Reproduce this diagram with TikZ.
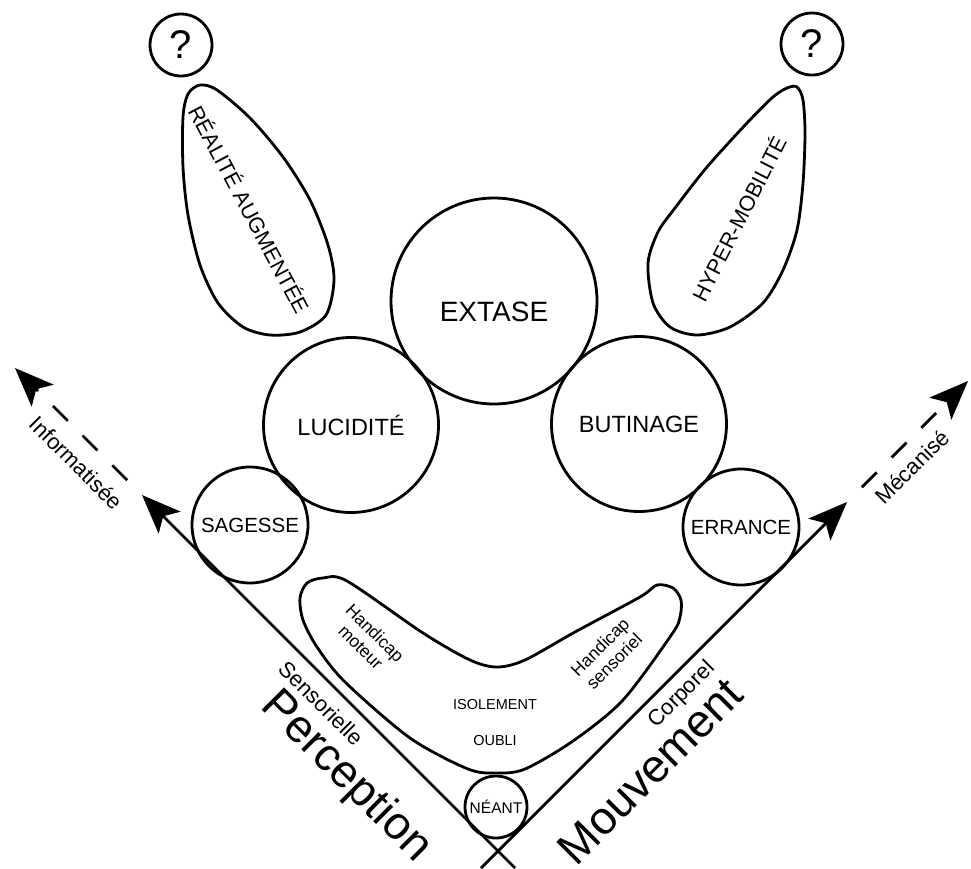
\documentclass[tikz,border=0pt]{standalone}
\usepackage{fontspec}
\setmainfont{Liberation Sans}
\usetikzlibrary{arrows.meta}
\usetikzlibrary{positioning}
\tikzstyle{bubble}=[draw,circle,line width=2.8pt,inner sep=0pt]
\tikzstyle{blob}=[line width=2.8pt,line join=round]

\begin{document}
\begin{tikzpicture}[
  x=1pt,y=-1pt,
  line width=2.8pt,
  huge bubble/.style={bubble,minimum size=206pt,font=\fontsize{28}{30}\selectfont,text height=40pt,text depth=0pt},
  large bubble/.style={bubble,minimum size=175pt,font=\fontsize{23.5}{26}\selectfont},
  small bubble/.style={bubble,minimum size=116pt,font=\fontsize{20.5}{23}\selectfont},
  tiny bubble/.style={bubble,minimum size=62pt,font=\fontsize{15.5}{18}\selectfont},
  question/.style={bubble,minimum size=62pt,font=\fontsize{40}{44}\selectfont},
  axis label/.style={font=\fontsize{22}{24}\selectfont},
  axis title/.style={font=\fontsize{46}{50}\selectfont},
  drop label/.style={font=\fontsize{21.5}{24}\selectfont},
  inner label/.style={font=\fontsize{14.5}{17}\selectfont},
  handicap/.style={font=\fontsize{17.5}{20}\selectfont,align=center},
  tip/.style={-{Stealth[length=39pt,width=31pt,inset=9pt]}},
  future/.style={tip,dash pattern=on 21pt off 21pt,dash phase=21pt},
]
  \useasboundingbox (0,0) rectangle (971,868);

  % the two axes
  \coordinate (lbot) at (515,868);
  \coordinate (ltip) at (142,495);
  \coordinate (lend) at (15,368);
  \coordinate (rbot) at (481,868);
  \coordinate (rtip) at (847,502);
  \coordinate (rend) at (968,381);
  \draw[tip] (lbot) -- (ltip);
  \draw[future] (ltip) -- (lend);
  \draw[tip] (rbot) -- (rtip);
  \draw[future] (rtip) -- (rend);

  \node[axis label,rotate=-45] (info) at (76,463) {Informatisée};
  \node[axis label,rotate=45] (meca) at (912,467) {Mécanisé};
  \node[axis label,rotate=-45] (senso) at (321,703) {Sensorielle};
  \node[axis title,rotate=-45] (percep) at (346,777) {Perception};
  \node[axis label,rotate=45] (corpo) at (682,695) {Corporel};
  \node[axis title,rotate=45] (mouv) at (650,771) {Mouvement};

  % circles
  \node[question] (q1) at (181,45) {?};
  \node[question] (q2) at (812,44) {?};
  \node[huge bubble] (extase) at (494,301) {EXTASE};
  \node[large bubble] (lucid) at (351,425) {LUCIDITÉ};
  \node[large bubble] (butin) at (639,424) {BUTINAGE};
  \node[small bubble] (sagesse) at (250,525) {SAGESSE};
  \node[small bubble] (errance) at (741,527) {ERRANCE};
  \node[tiny bubble] (neant) at (496,807) {NÉANT};

  % drops
  \draw[blob] plot[smooth cycle] coordinates {(200,85) (217,90) (250,118) (283,157) (310,200) (328,245) (334,280)
    (326,315) (300,332) (270,335) (243,327) (218,303) (200,265) (188,215) (183,167) (183,117) (188,94)};
  \draw[blob] plot[smooth cycle] coordinates {(787,88) (797,87) (803,100) (805,133) (803,183) (797,230) (783,270)
    (763,303) (730,327) (697,335) (670,327) (653,303) (648,263) (658,232) (675,208) (707,167) (747,123) (773,97)};
  \node[drop label,rotate=-62] (reali) at (250,209) {RÉALITÉ AUGMENTÉE};
  \node[drop label,rotate=63] (hyper) at (738,218) {HYPER-MOBILITÉ};

  % boomerang
  \draw[blob] plot[smooth cycle] coordinates {(300,598) (307,583) (323,578) (347,581) (423,633) (470,660) (497,667)
    (525,660) (575,632) (640,597) (657,585) (673,588) (681,600) (680,617) (672,634) (623,700) (573,741) (525,769)
    (497,773) (468,769) (410,738) (345,682) (317,647) (303,620)};
  \node[handicap,rotate=-45] (moteur) at (368,640) {Handicap\\moteur};
  \node[handicap,rotate=45] (sensoriel) at (607,654) {Handicap\\sensoriel};
  \node[inner label] (isol) at (495,704) {ISOLEMENT};
  \node[inner label] (oubli) at (495,740) {OUBLI};
\end{tikzpicture}
\end{document}
